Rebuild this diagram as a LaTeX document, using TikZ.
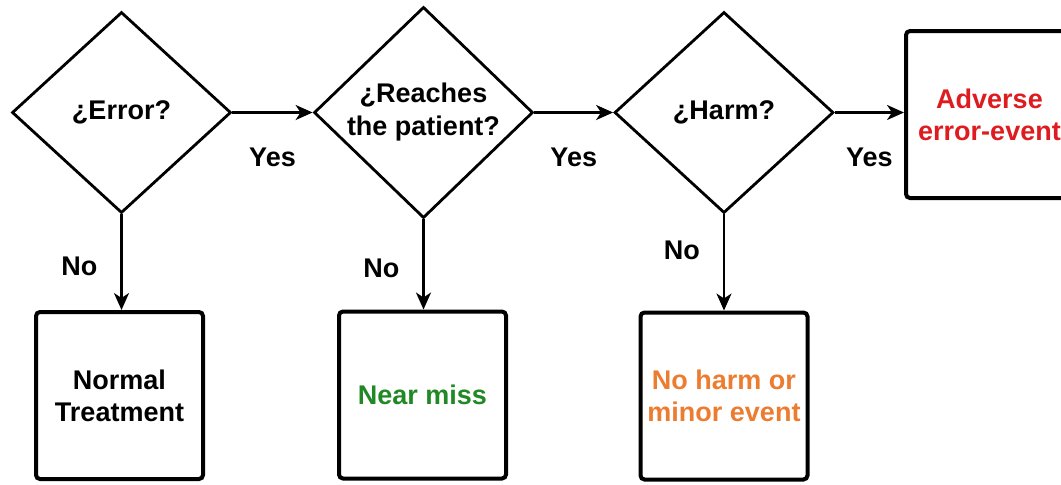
\documentclass[tikz,border=0pt]{standalone}
\usepackage{fontspec}
\setmainfont{Liberation Sans}
\usetikzlibrary{shapes.geometric,arrows.meta}

\definecolor{adversered}{RGB}{222,28,32}
\definecolor{missgreen}{RGB}{32,136,36}
\definecolor{minororange}{RGB}{236,124,48}

\tikzset{
  question/.style={draw,diamond,line width=1.4pt,minimum width=109.5pt,
    minimum height=100.5pt,inner sep=0pt,align=center,
    font=\fontsize{13.5}{16.5}\selectfont\bfseries},
  outcome/.style={draw,rectangle,rounded corners=2pt,line width=2pt,
    minimum width=83.5pt,minimum height=83.5pt,inner sep=0pt,align=center,
    font=\fontsize{13.5}{16}\selectfont\bfseries},
  flow/.style={line width=1.2pt,-{Stealth[length=8.5pt,width=7.5pt,inset=2.5pt]}},
  answer/.style={inner sep=0pt,font=\fontsize{13.5}{16}\selectfont\bfseries}
}

\begin{document}
\begin{tikzpicture}[x=0.5pt,y=-0.5pt]
\path[use as bounding box] (0,0) rectangle (1061,484);

  % questions
  \node[question] (error)   at (121.5,112.5) {¿Error?};
  \node[question] (reaches) at (423.5,112.5) {¿Reaches\\the patient?};
  \node[question] (harm)    at (724,112.5)   {¿Harm?};

  % outcomes
  \node[outcome] (normal)  at (119.5,395.5) {Normal\\Treatment};
  \node[outcome] (miss)    at (422.5,395)   {\color{missgreen}Near miss};
  \node[outcome] (minor)   at (724,396)     {\color{minororange}No harm or\\\color{minororange}minor event};
  \node[outcome] (adverse) at (989.5,114.5) {\color{adversered}Adverse\\\color{adversered}error-event};

  % yes branches
  \draw[flow] (error.east) -- node[answer,below=17pt] (yes1) {Yes} (reaches.west);
  \draw[flow] (reaches.east) -- node[answer,below=17pt] (yes2) {Yes} (harm.west);
  \draw[flow] (harm.east) -- node[answer,below=17pt] (yes3) {Yes} (harm.east -| adverse.west);

  % no branches
  \draw[flow] (error.south) -- node[answer,pos=.54,left=11.5pt] (no1) {No} (error.south |- normal.north);
  \draw[flow] (reaches.south) -- node[answer,pos=.54,left=11.5pt] (no2) {No} (reaches.south |- miss.north);
  \draw[flow] (harm.south) -- node[answer,pos=.37,left=11.5pt] (no3) {No} (harm.south |- minor.north);
\end{tikzpicture}
\end{document}
